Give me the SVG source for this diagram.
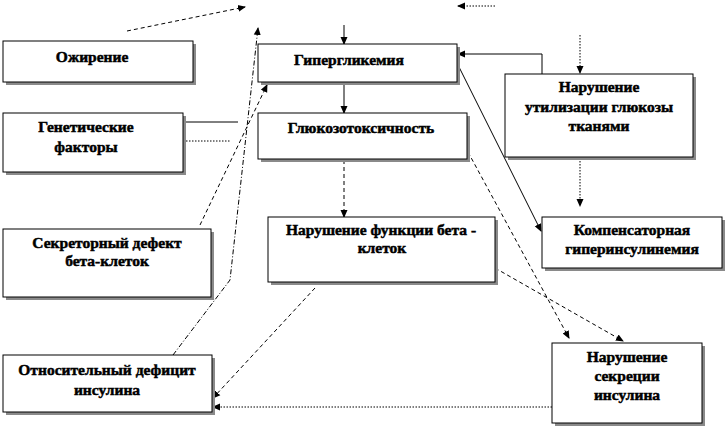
<svg xmlns="http://www.w3.org/2000/svg" width="727" height="428" viewBox="0 0 727 428">
<style>
.sh{fill:#8a8a8a}
.bx{fill:#fff;stroke:#000;stroke-width:1}
.t{font-family:"Liberation Serif","Times New Roman",serif;font-weight:bold;font-size:15.5px;fill:#000;text-anchor:middle;stroke:#000;stroke-width:0.5}
.c{fill:none;stroke:#000;stroke-width:1}
.d{stroke-dasharray:4 3}
.o{stroke-dasharray:1.5 1.5}
.dd{stroke-dasharray:5 2 1 2}
</style>
<defs>
<marker id="a" markerWidth="8" markerHeight="8" refX="7" refY="4" orient="auto" markerUnits="userSpaceOnUse">
<path d="M0,0.5 L8,4 L0,7.5 Z" fill="#000"/>
</marker>
</defs>
<rect width="727" height="428" fill="#fff"/>
<g id="connectors">
<line class="c d" x1="127" y1="31" x2="245" y2="7" marker-end="url(#a)"/>
<line class="c o" x1="495" y1="6" x2="458" y2="6" marker-end="url(#a)"/>
<line class="c" x1="344" y1="25" x2="344" y2="44" marker-end="url(#a)"/>
<line class="c" x1="344" y1="82" x2="344" y2="113" marker-end="url(#a)"/>
<line class="c d" x1="344" y1="160" x2="344" y2="217" marker-end="url(#a)"/>
<line class="c o" x1="580" y1="35" x2="580" y2="73" marker-end="url(#a)"/>
<line class="c o" x1="580" y1="158" x2="580" y2="206" marker-end="url(#a)"/>
<polyline class="c" points="542,74 542,54 458,54" marker-end="url(#a)"/>
<line class="c" x1="458" y1="65" x2="541" y2="231" marker-end="url(#a)"/>
<line class="c d" x1="468" y1="152" x2="569" y2="338" marker-end="url(#a)"/>
<line class="c d" x1="495" y1="268" x2="623" y2="341" marker-end="url(#a)"/>
<line class="c d" x1="315" y1="288" x2="213" y2="398" marker-end="url(#a)"/>
<line class="c o" x1="552" y1="407" x2="213" y2="407" marker-end="url(#a)"/>
<line class="c" x1="183" y1="122" x2="238" y2="122"/>
<line class="c o" x1="183" y1="141" x2="230" y2="141"/>
<polyline class="c dd" points="173,355 230,280 258,28" marker-end="url(#a)"/>
<line class="c d" x1="200" y1="225" x2="267" y2="85" marker-end="url(#a)"/>
</g>
<g id="n1">
<rect class="sh" x="6" y="44" width="190" height="41"/>
<rect class="bx" x="3" y="41" width="190" height="41"/>
<text class="t" x="92" y="62">Ожирение</text>
</g>
<g id="n2">
<rect class="sh" x="6" y="116" width="180" height="59"/>
<rect class="bx" x="3" y="113" width="180" height="59"/>
<text class="t" x="86" y="132">Генетические</text>
<text class="t" x="86" y="152">факторы</text>
</g>
<g id="n3">
<rect class="sh" x="261" y="47" width="199" height="38"/>
<rect class="bx" x="258" y="44" width="199" height="38"/>
<text class="t" x="349" y="65">Гипергликемия</text>
</g>
<g id="n4">
<rect class="sh" x="261" y="116" width="209" height="46"/>
<rect class="bx" x="258" y="113" width="209" height="46"/>
<text class="t" x="361" y="133">Глюкозотоксичность</text>
</g>
<g id="n5">
<rect class="sh" x="508" y="77" width="188" height="83"/>
<rect class="bx" x="505" y="74" width="188" height="83"/>
<text class="t" x="599" y="92">Нарушение</text>
<text class="t" x="599" y="112">утилизации глюкозы</text>
<text class="t" x="599" y="131">тканями</text>
</g>
<g id="n6">
<rect class="sh" x="545" y="220" width="180" height="51"/>
<rect class="bx" x="542" y="217" width="180" height="51"/>
<text class="t" x="632" y="235">Компенсаторная</text>
<text class="t" x="632" y="254">гиперинсулинемия</text>
</g>
<g id="n7">
<rect class="sh" x="6" y="232" width="208" height="68"/>
<rect class="bx" x="3" y="229" width="208" height="68"/>
<text class="t" x="107" y="248">Секреторный дефект</text>
<text class="t" x="107" y="266">бета-клеток</text>
</g>
<g id="n8">
<rect class="sh" x="271" y="220" width="227" height="65"/>
<rect class="bx" x="268" y="217" width="227" height="65"/>
<text class="t" x="381" y="235">Нарушение функции бета -</text>
<text class="t" x="382" y="253">клеток</text>
</g>
<g id="n9">
<rect class="sh" x="6" y="358" width="209" height="57"/>
<rect class="bx" x="3" y="355" width="209" height="57"/>
<text class="t" x="107" y="375">Относительный дефицит</text>
<text class="t" x="107" y="395">инсулина</text>
</g>
<g id="n10">
<rect class="sh" x="555" y="346" width="150" height="80"/>
<rect class="bx" x="552" y="343" width="150" height="80"/>
<text class="t" x="627" y="362">Нарушение</text>
<text class="t" x="627" y="381">секреции</text>
<text class="t" x="627" y="400">инсулина</text>
</g>
</svg>
